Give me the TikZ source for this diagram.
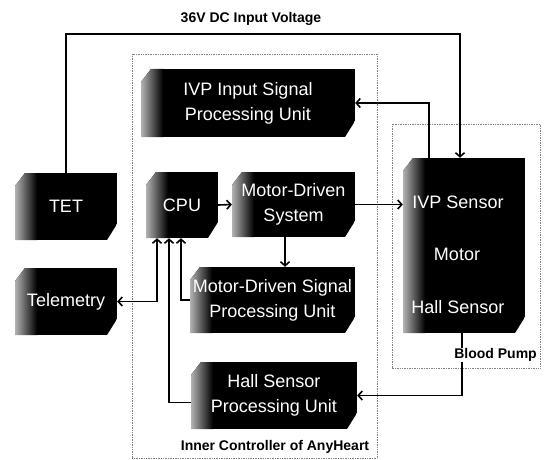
\documentclass[tikz,border=0pt]{standalone}
\usepackage{fontspec}
\setmainfont{Liberation Sans}
\usetikzlibrary{arrows.meta}
\newcommand{\boxfont}{\fontsize{18}{25}\selectfont}
\newcommand{\lblfont}{\fontsize{14}{16}\selectfont\bfseries}
\tikzset{
  blk/.style={rectangle, inner sep=0pt, text=white, font=\boxfont, align=center,
    path picture={
      \begin{scope}
      \path[clip] ([xshift=10pt]path picture bounding box.north west)
        -- (path picture bounding box.north east)
        -- ([yshift=16pt]path picture bounding box.south east)
        -- ([xshift=-10pt]path picture bounding box.south east)
        -- (path picture bounding box.south west)
        -- ([yshift=-13pt]path picture bounding box.north west) -- cycle;
      \fill[black] (path picture bounding box.south west) rectangle (path picture bounding box.north east);
      \shade[left color=gray!60, right color=black] (path picture bounding box.south west) rectangle ([xshift=22pt]path picture bounding box.north west);
      \end{scope}}},
  wtxt/.style={text=white, font=\boxfont, inner sep=0pt},
  lbl/.style={font=\lblfont, inner sep=0pt},
  frame/.style={densely dotted, gray, line width=0.7pt},
  conn/.style={line width=1.6pt, black},
  arr/.style={conn, -{Straight Barb[length=4pt,width=9pt]}},
  darr/.style={conn, {Straight Barb[length=4pt,width=9pt]}-{Straight Barb[length=4pt,width=9pt]}}
}
\begin{document}
\begin{tikzpicture}[x=1pt,y=1pt]
\useasboundingbox (0,0) rectangle (544,459);
% frames
\draw[frame] (132,1) rectangle (377,405);
\draw[frame] (392,91) rectangle (540,335);
% boxes
\node[blk, minimum width=214pt, minimum height=68pt] (ivp) at (248,356) {IVP Input Signal\\Processing Unit};
\node[blk, minimum width=102pt, minimum height=67pt] (tet) at (66,252.5) {TET};
\node[blk, minimum width=102pt, minimum height=67pt] (tel) at (66,157.5) {Telemetry};
\node[blk, minimum width=72pt, minimum height=66pt] (cpu) at (182,254) {CPU};
\node[blk, minimum width=123pt, minimum height=65pt] (mds) at (293.5,254.5) {Motor-Driven\\System};
\node[blk, minimum width=165pt, minimum height=66pt] (mdspu) at (272.5,159) {Motor-Driven Signal\\Processing Unit};
\node[blk, minimum width=166pt, minimum height=67pt] (hspu) at (274,63.5) {Hall Sensor\\Processing Unit};
\node[blk, minimum width=122pt, minimum height=175pt] (pump) at (464,213.5) {};
\node[wtxt] (ivps) at (458,257) {IVP Sensor};
\node[wtxt] (motor) at (457,205) {Motor};
\node[wtxt] (halls) at (458,152) {Hall Sensor};
% labels
\node[lbl] (title) at (251,440) {36V DC Input Voltage};
\node[lbl] (inner) at (275,12) {Inner Controller of AnyHeart};
% connectors
\coordinate (c1) at (460,425);
\draw[arr] (tet.north) |- (c1) -- (c1 |- pump.north);
\draw[arr] ([xshift=-35pt]pump.north) |- (ivp.east);
\draw[arr] (cpu.east) -- (mds.west);
\draw[arr] (mds.east) -- (mds.east -| pump.west);
\draw[arr] ([xshift=-8.5pt]mds.south) -- ([xshift=-8.5pt]mds.south |- mdspu.north);
\draw[darr] (tel.east) -| ([xshift=-25pt]cpu.south);
\draw[arr] (mdspu.west) -| ([xshift=-1pt]cpu.south);
\draw[arr] ([yshift=-7pt]hspu.west) -| ([xshift=-13pt]cpu.south);
\draw[arr] ([xshift=-2pt]pump.south) |- (hspu.east);
\node[lbl, anchor=east, fill=white, inner sep=0pt] (bp) at (537,104) {Blood Pump};
\end{tikzpicture}
\end{document}
